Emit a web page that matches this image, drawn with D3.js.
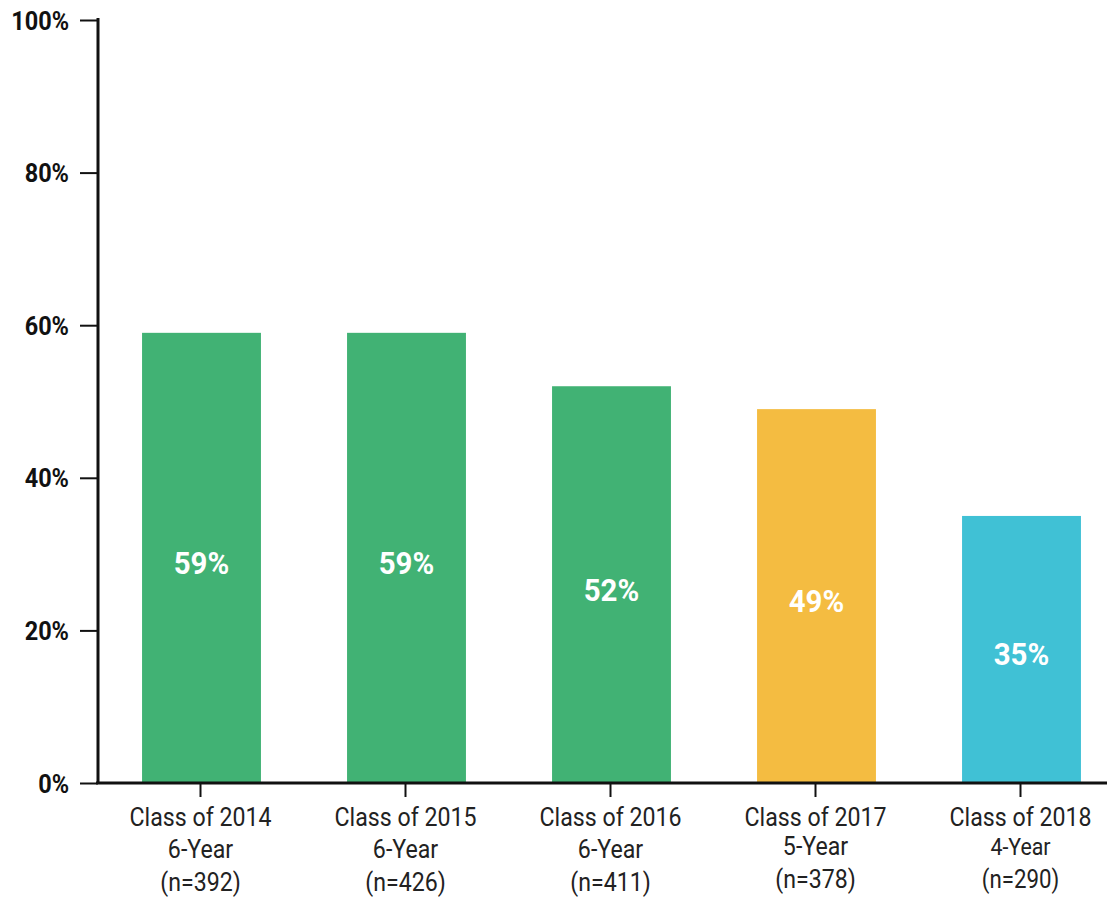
<!DOCTYPE html>
<html>
<head>
<meta charset="utf-8">
<script src="https://cdn.jsdelivr.net/npm/d3@7"></script>
<style>
  body { margin: 0; background: #fff; }
  text { font-family: Roboto, "Noto Sans", sans-serif; }
</style>
</head>
<body>
<script>
// chart data
const classes = ['Class of 2014', 'Class of 2015', 'Class of 2016', 'Class of 2017', 'Class of 2018']
const cohorts = ['6-Year', '6-Year', '6-Year', '5-Year', '4-Year']
const counts = ['(n=392)', '(n=426)', '(n=411)', '(n=378)', '(n=290)']
const rates = [59, 59, 52, 49, 35]
const barColors = ['#41b274', '#41b274', '#41b274', '#f4bc41', '#40c1d5']
const yTicks = [0, 20, 40, 60, 80, 100]

const fullWidth = 1107
const fullHeight = 897
const margins = { left: 98, top: 20, bottom: 114 }
const height = fullHeight - margins.top - margins.bottom

const svg = d3.select('body')
  .append('svg')
  .attr('width', fullWidth)
  .attr('height', fullHeight)

const x = d3.scaleBand()
  .domain(classes)
  .range([margins.left, margins.left + 1025])
  .paddingInner(0.42)
  .paddingOuter(0.21)

const y = d3.scaleLinear()
  .domain([0, 100])
  .range([margins.top + height, margins.top])

// BARS
svg.selectAll('rect.bar')
  .data(classes)
  .enter()
  .append('rect')
  .attr('class', 'bar')
  .attr('x', d => x(d) + 1)
  .attr('width', x.bandwidth())
  .attr('y', (d, i) => y(rates[i]))
  .attr('height', (d, i) => y(0) - y(rates[i]))
  .attr('fill', (d, i) => barColors[i])

// value labels, squeezed a bit to look condensed
svg.selectAll('text.val')
  .data(classes)
  .enter()
  .append('text')
  .attr('class', 'val')
  .attr('transform', (d, i) => `translate(${x(d) + x.bandwidth() / 2 + 1},${(y(rates[i]) + y(0)) / 2 + 16}) scale(0.92,1)`)
  .attr('text-anchor', 'middle')
  .attr('fill', '#fff')
  .attr('font-weight', 700)
  .attr('font-size', 32)
  .text((d, i) => rates[i] + '%')

// Y AXIS
const yAxis = svg.append('g')
  .attr('transform', `translate(${margins.left},0)`)
  .call(d3.axisLeft(y).tickValues(yTicks).tickFormat(d => d + '%').tickSize(18).tickSizeOuter(0))
yAxis.select('.domain').attr('stroke', '#111').attr('stroke-width', 3)
  .attr('d', `M0,${y(0)}V${y(100) - 2}`)
yAxis.selectAll('.tick line').attr('stroke', '#111').attr('stroke-width', 2)
yAxis.selectAll('.tick text')
  .attr('x', 0)
  .attr('dy', 0)
  .attr('font-size', 25)
  .attr('font-weight', 700)
  .attr('fill', '#111')
  .attr('text-anchor', 'end')
  .attr('transform', 'translate(-29,9) scale(0.94,1)')

// X AXIS
const xAxis = svg.append('g')
  .attr('transform', `translate(0,${y(0)})`)
  .call(d3.axisBottom(x).tickSize(14).tickSizeOuter(0).tickFormat(''))
xAxis.select('.domain').attr('stroke', '#111').attr('stroke-width', 3)
  .attr('d', `M${margins.left - 2},0H${fullWidth}`)
xAxis.selectAll('.tick line').attr('stroke', '#111').attr('stroke-width', 2)

// category labels (three lines)
const lab = svg.selectAll('g.lab')
  .data(classes)
  .enter()
  .append('g')
  .attr('class', 'lab')
  .attr('transform', d => `translate(${x(d) + x.bandwidth() / 2},0) scale(0.89,1)`)

lab.append('text')
  .attr('y', 826)
  .attr('text-anchor', 'middle')
  .attr('font-size', 26)
  .attr('fill', '#222')
  .text(d => d)

lab.append('text')
  .attr('y', (d, i) => i < 3 ? 858 : 855)
  .attr('text-anchor', 'middle')
  .attr('font-size', (d, i) => i === 4 ? 24 : 26)
  .attr('fill', '#222')
  .text((d, i) => cohorts[i])

lab.append('text')
  .attr('y', (d, i) => i < 3 ? 891 : 888)
  .attr('text-anchor', 'middle')
  .attr('font-size', (d, i) => i === 4 ? 25 : 26)
  .attr('fill', '#222')
  .text((d, i) => counts[i])
</script>
</body>
</html>
